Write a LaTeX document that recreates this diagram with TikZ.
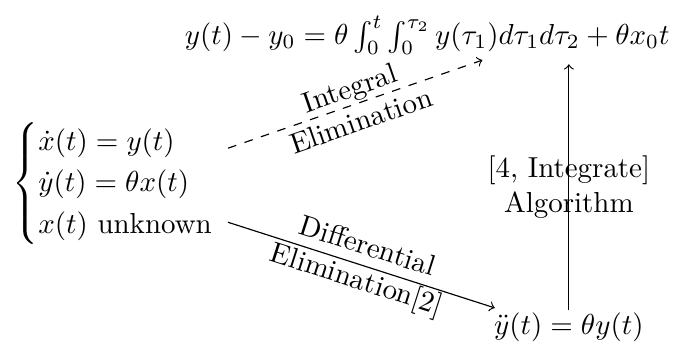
\documentclass[tikz,border=0pt]{standalone}
\usepackage{amsmath}
\begin{document}
\begin{tikzpicture}[>=to]
    % Bounding box
        \useasboundingbox (0,0) rectangle (8.26,-4.24);
    % Equations
        \node (sys) at (1.56,-2.23) {$\begin{cases}\dot{x}(t)=y(t)\\ \dot{y}(t)=\theta x(t)\\ x(t)\text{ unknown}\end{cases}$};
        \node (integ) at (5.19,-0.43) {$y(t)-y_0=\theta\int_0^t\int_0^{\tau_2}y(\tau_1)d\tau_1d\tau_2+\theta x_0t$};
        \node (diffeq) at (6.91,-3.97) {$\ddot{y}(t)=\theta y(t)$};
        \coordinate (a) at (2.77,-1.80);
        \coordinate (b) at (5.86,-0.73);
        \coordinate (c) at (2.77,-2.70);
        \coordinate (d) at (6.01,-3.74);
    % Arrows
        \draw[->,dashed] (a) -- node[sloped,align=center]{Integral\\Elimination} (b);
        \draw[->] (c) -- node[sloped,align=center]{Differential\\Elimination[2]} (d);
        \draw[->] ([yshift=-0.1cm]diffeq.north) -- node[align=center]{[4, Integrate]\\Algorithm} ([yshift=0.01cm]diffeq.north |- integ.south);
\end{tikzpicture}
\end{document}
